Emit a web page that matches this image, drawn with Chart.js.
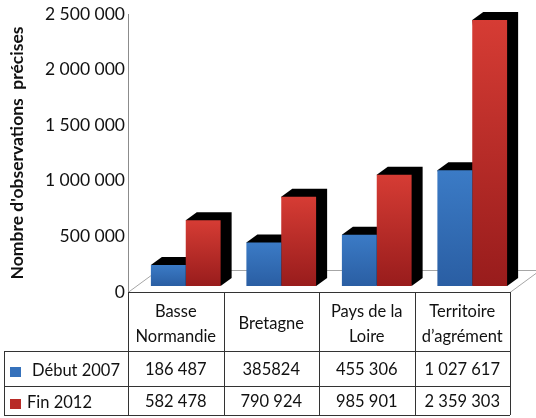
<!DOCTYPE html>
<html lang="fr">
<head>
<meta charset="utf-8">
<title>Nombre d'observations précises</title>
<script src="https://cdn.jsdelivr.net/npm/chart.js@4.4.1/dist/chart.umd.min.js"></script>
<style>
  html, body { margin: 0; padding: 0; background: #fff; }
  #wrap { width: 536px; height: 418px; }
</style>
</head>
<body>
<div id="wrap"><canvas id="chart" width="536" height="418"></canvas></div>
<script>
const categories = [['Basse', 'Normandie'], ['Bretagne'], ['Pays de la', 'Loire'], ['Territoire', 'd’agrément']];
const seriesNames = ['Début 2007', 'Fin 2012'];
const debut2007 = [186487, 385824, 455306, 1027617];
const fin2012 = [582478, 790924, 985901, 2359303];
const yTicks = [0, 500000, 1000000, 1500000, 2000000, 2500000];
// the source table prints this one without the thousands space
const plainCells = ['Début 2007|1'];

const FONT = 'Lato';
const BLUE = { top: '#3b7bc6', bottom: '#2a5ea3', key: '#3571bb' };
const RED = { top: '#d63c34', bottom: '#981c1c', key: '#b82b27' };
const DEPTH_X = 11, DEPTH_Y = 8;   // 3d extrusion of the bars
const SHIFT_X = 10;                // bars sit half way back on the floor
const LINE = '#333';

function fmt(v) {
  return String(v).replace(/\B(?=(\d{3})+(?!\d))/g, ' ');
}

function cellText(s, i) {
  const v = s === 0 ? debut2007[i] : fin2012[i];
  return plainCells.indexOf(seriesNames[s] + '|' + i) >= 0 ? String(v) : fmt(v);
}

function faceGradient(c1) {
  return function (c) {
    const chart = c.chart;
    const yb = chart.scales.yb;
    if (!chart.chartArea || !yb || c.raw == null) return c1.bottom;
    const y0 = yb.getPixelForValue(c.raw);
    const y1 = yb.getPixelForValue(0);
    if (!isFinite(y0) || !isFinite(y1)) return c1.bottom;
    const g = chart.ctx.createLinearGradient(0, y0, 0, y1);
    g.addColorStop(0, c1.top);
    g.addColorStop(1, c1.bottom);
    return g;
  };
}

const bars3d = {
  id: 'bars3d',
  beforeDatasetsDraw(chart) {
    const ctx = chart.ctx;
    const a = chart.chartArea;
    const fx = 30, fy = 22;   // floor depth
    ctx.save();
    ctx.strokeStyle = '#a6a6a6';
    ctx.lineWidth = 1;
    ctx.beginPath();
    ctx.moveTo(a.left, a.bottom + 0.5);
    ctx.lineTo(a.left + fx, a.bottom - fy + 0.5);
    ctx.lineTo(a.right + fx, a.bottom - fy + 0.5);
    ctx.moveTo(a.right, a.bottom + 0.5);
    ctx.lineTo(a.right + fx, a.bottom - fy + 0.5);
    ctx.stroke();
    ctx.restore();

    ctx.save();
    ctx.translate(SHIFT_X, 0);
    ctx.fillStyle = '#000';
    chart.data.datasets.forEach(function (ds, i) {
      chart.getDatasetMeta(i).data.forEach(function (bar) {
        const p = bar.getProps(['x', 'y', 'base', 'width'], true);
        const x0 = p.x - p.width / 2, x1 = p.x + p.width / 2;
        ctx.beginPath();
        ctx.moveTo(x0, p.y);
        ctx.lineTo(x0 + DEPTH_X, p.y - DEPTH_Y);
        ctx.lineTo(x1 + DEPTH_X, p.y - DEPTH_Y);
        ctx.lineTo(x1 + DEPTH_X, p.base - DEPTH_Y);
        ctx.lineTo(x1, p.base);
        ctx.closePath();
        ctx.fill();
      });
    });
  },
  afterDatasetsDraw(chart) {
    chart.ctx.restore();
  }
};

const dataTable = {
  id: 'dataTable',
  afterDraw(chart) {
    const ctx = chart.ctx;
    const a = chart.chartArea;
    const n = categories.length;
    const w = a.width / n;
    const rowTop = [a.bottom, 351, 386, 415];
    const tableLeft = 4;

    ctx.save();
    ctx.strokeStyle = LINE;
    ctx.lineWidth = 1;
    ctx.beginPath();
    ctx.moveTo(a.left, rowTop[0] + 0.5);
    ctx.lineTo(a.right, rowTop[0] + 0.5);
    for (let r = 1; r < rowTop.length; r++) {
      ctx.moveTo(tableLeft, rowTop[r] + 0.5);
      ctx.lineTo(a.right, rowTop[r] + 0.5);
    }
    ctx.moveTo(tableLeft + 0.5, rowTop[1]);
    ctx.lineTo(tableLeft + 0.5, rowTop[3]);
    for (let i = 0; i <= n; i++) {
      const x = Math.round(a.left + i * w) + 0.5;
      ctx.moveTo(x, rowTop[0]);
      ctx.lineTo(x, rowTop[3]);
    }
    ctx.stroke();

    ctx.fillStyle = '#111';
    ctx.font = '16.5px ' + FONT;
    ctx.textAlign = 'center';
    ctx.textBaseline = 'middle';
    const x = chart.scales.x;
    categories.forEach(function (lines, i) {
      const cx = x.getPixelForValue(i);
      const y0 = 324 - (lines.length - 1) * 12.5;
      lines.forEach(function (t, k) { ctx.fillText(t, cx, y0 + k * 25); });
      ctx.fillText(cellText(0, i), cx, 370);
      ctx.fillText(cellText(1, i), cx, 402);
    });

    ctx.textAlign = 'left';
    ctx.fillText(seriesNames[0], 32, 371);
    ctx.fillText(seriesNames[1], 27, 403);
    ctx.fillStyle = BLUE.key;
    ctx.fillRect(10, 367, 11, 10);
    ctx.fillStyle = RED.key;
    ctx.fillRect(10, 399, 11, 10);
    ctx.restore();
  }
};

function draw() {
  Chart.defaults.font.family = FONT;
  Chart.defaults.color = '#111';
  new Chart(document.getElementById('chart'), {
    type: 'bar',
    data: {
      labels: categories,
      datasets: [
        { label: seriesNames[0], data: debut2007, yAxisID: 'yb', backgroundColor: faceGradient(BLUE), clip: false },
        { label: seriesNames[1], data: fin2012, yAxisID: 'yb', backgroundColor: faceGradient(RED), clip: false }
      ]
    },
    options: {
      responsive: false,
      animation: false,
      layout: { padding: { left: 0, top: 14, right: 26, bottom: 126 } },
      datasets: { bar: { categoryPercentage: 0.73, barPercentage: 1.0, borderWidth: 0 } },
      plugins: { legend: { display: false }, tooltip: { enabled: false } },
      scales: {
        x: { display: false },
        y: {
          position: 'left',
          min: 0,
          max: yTicks[yTicks.length - 1],
          afterBuildTicks: function (s) { s.ticks = yTicks.map(function (v) { return { value: v }; }); },
          afterFit: function (s) { s.width = 128; },
          grid: { display: false, drawTicks: false },
          border: { display: true, color: '#8c8c8c', width: 1 },
          ticks: { padding: 3, font: { size: 17.5 }, color: '#111', callback: function (v) { return fmt(v); } },
          title: {
            display: true,
            text: 'Nombre d\'observations  précises',
            font: { size: 17.5, weight: 'bold' },
            color: '#111',
            padding: { top: 7, bottom: 4 }
          }
        },
        // bars use their own mapping: the front faces start a little above the axis base
        yb: { display: false, min: -53000, max: 2412000 }
      }
    },
    plugins: [bars3d, dataTable]
  });
}

if (document.fonts && document.fonts.load) {
  Promise.all([document.fonts.load('16px ' + FONT), document.fonts.load('bold 16px ' + FONT)]).then(draw, draw);
} else {
  draw();
}
</script>
</body>
</html>
